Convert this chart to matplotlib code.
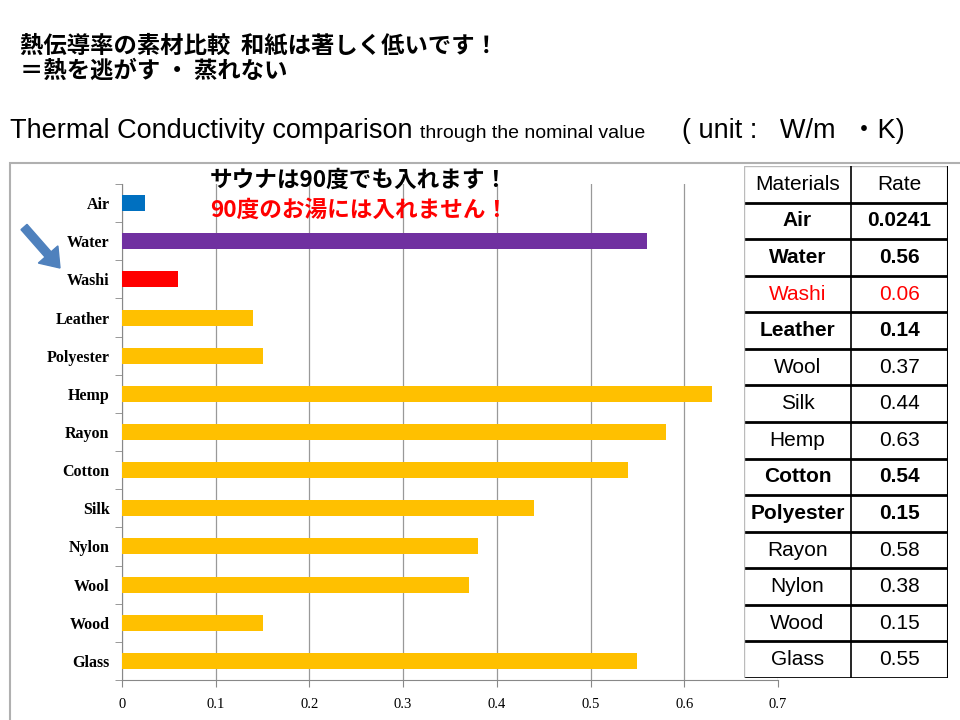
import matplotlib.pyplot as plt
from matplotlib.patches import Rectangle, FancyArrow
from matplotlib import font_manager

# =======================
# dados
# =======================
materiais = ['Air', 'Water', 'Washi', 'Leather', 'Polyester', 'Hemp', 'Rayon',
             'Cotton', 'Silk', 'Nylon', 'Wool', 'Wood', 'Glass']
valores = [0.0241, 0.56, 0.06, 0.14, 0.15, 0.63, 0.58, 0.54, 0.44, 0.38, 0.37, 0.15, 0.55]
cores = ['#0070C0', '#7030A0', '#FF0000'] + ['#FFC000'] * 10

tabela_materiais = ['Air', 'Water', 'Washi', 'Leather', 'Wool', 'Silk', 'Hemp',
                    'Cotton', 'Polyester', 'Rayon', 'Nylon', 'Wood', 'Glass']
tabela_valores = ['0.0241', '0.56', '0.06', '0.14', '0.37', '0.44', '0.63',
                  '0.54', '0.15', '0.58', '0.38', '0.15', '0.55']
tabela_negrito = [True, True, False, True, False, False, False,
                  True, True, False, False, False, False]

titulo1 = '熱伝導率の素材比較  和紙は著しく低いです！'
titulo2 = '＝熱を逃がす ・ 蒸れない'
nota1 = 'サウナは90度でも入れます！'
nota2 = '90度のお湯には入れません！'

# =======================
# fontes
# =======================
instaladas = {f.name for f in font_manager.fontManager.ttflist}
fonte_estreita = 'Liberation Sans Narrow' if 'Liberation Sans Narrow' in instaladas else 'Liberation Sans'
cjk = ['Noto Sans CJK JP', 'DejaVu Sans']
serif = 'Liberation Serif'

W, H = 960, 720
fig = plt.figure(figsize=(9.6, 7.2), dpi=100)


def fx(px):
    return px / W


def fy(py):
    return 1 - py / H


# titulos no topo
fig.text(fx(20), fy(45), titulo1, family=cjk, fontsize=16.8, fontweight='bold', va='center')
fig.text(fx(20), fy(71), titulo2, family=cjk, fontsize=16.8, fontweight='bold', va='center')

t = fig.text(fx(10), fy(131), 'Thermal Conductivity comparison ', family=fonte_estreita,
             fontsize=19.5, va='center')
fig.canvas.draw()
bb = t.get_window_extent()
t2 = fig.text(bb.x1 / W, fy(134), 'through the nominal value', family=fonte_estreita,
              fontsize=14, va='center')
fig.text(fx(682), fy(131), '( unit :   W/m  ・K)', family=[fonte_estreita, 'Noto Sans CJK JP'],
         fontsize=19.5, va='center')

# moldura cinza do grafico
fig.patches.append(Rectangle((fx(10), fy(725)), fx(960), fy(163) - fy(725),
                             transform=fig.transFigure, fill=False,
                             edgecolor='#b0b0b0', linewidth=1.5))

# =======================
# grafico de barras
# =======================
ax = fig.add_axes([fx(122), fy(680), fx(778) - fx(122), fy(184) - fy(680)])
pos = list(range(len(materiais)))
ax.barh(pos, valores, height=0.42, color=cores, zorder=3)
ax.set_xlim(0, 0.7)
ax.set_ylim(len(materiais) - 0.5, -0.5)
ax.set_xticks([0, 0.1, 0.2, 0.3, 0.4, 0.5, 0.6, 0.7])
ax.set_xticklabels(['0', '0.1', '0.2', '0.3', '0.4', '0.5', '0.6', '0.7'],
                   family=serif, fontsize=10.5)
ax.set_yticks(pos)
ax.set_yticklabels(materiais, family=serif, fontsize=11.5, fontweight='bold')
ax.set_yticks([p + 0.5 for p in range(-1, len(materiais))], minor=True)
ax.tick_params(axis='y', which='major', length=0, pad=9)
ax.tick_params(axis='y', which='minor', length=5, color='#888888')
ax.tick_params(axis='x', length=5, color='#888888', pad=8)
ax.grid(axis='x', color='#999999', linewidth=0.9, zorder=0)
for lado in ['top', 'right']:
    ax.spines[lado].set_visible(False)
for lado in ['left', 'bottom']:
    ax.spines[lado].set_color('#888888')

# notas
fig.text(fx(210), fy(180), nota1, family=cjk, fontsize=16.3, fontweight='bold', va='center')
fig.text(fx(210), fy(210), nota2, family=cjk, fontsize=16.3, fontweight='bold',
         color='#FF0000', va='center')

# seta azul (em polegadas)
fig.patches.append(FancyArrow(0.24, 4.93, 0.36, -0.41,
                              transform=fig.dpi_scale_trans, width=0.08,
                              head_width=0.26, head_length=0.18,
                              length_includes_head=True, color='#4F81BD'))

# =======================
# tabela
# =======================
tx = fig.add_axes([fx(744), fy(678), fx(948) - fx(744), fy(166) - fy(678)])
tx.set_xlim(0, 204)
n = len(tabela_materiais) + 1
tx.set_ylim(n, 0)
tx.axis('off')
tx.add_patch(Rectangle((0, 0), 204, n, facecolor='white', edgecolor='none'))
col = 107
tx.text(col / 2, 0.5, 'Materials', family=fonte_estreita, fontsize=15, ha='center', va='center')
tx.text((col + 204) / 2, 0.5, 'Rate', family=fonte_estreita, fontsize=15, ha='center', va='center')
for i, (m, v, b) in enumerate(zip(tabela_materiais, tabela_valores, tabela_negrito)):
    cor = '#FF0000' if m == 'Washi' else 'black'
    peso = 'bold' if b else 'normal'
    tx.text(col / 2, i + 1.5, m, family=fonte_estreita, fontsize=15, ha='center',
            va='center', color=cor, fontweight=peso)
    tx.text((col + 204) / 2, i + 1.5, v, family=fonte_estreita, fontsize=15, ha='center',
            va='center', color=cor, fontweight=peso)
for i in range(1, n + 1):
    tx.plot([0, 204], [i, i], color='black', linewidth=2)
tx.plot([0, 204], [0, 0], color='#bbbbbb', linewidth=1)
tx.plot([0, 0], [0, n], color='#bbbbbb', linewidth=1)
tx.plot([col, col], [0, n], color='black', linewidth=1.2)
tx.plot([204, 204], [0, n], color='black', linewidth=1.5)

fig.savefig('out.png', dpi=100)
